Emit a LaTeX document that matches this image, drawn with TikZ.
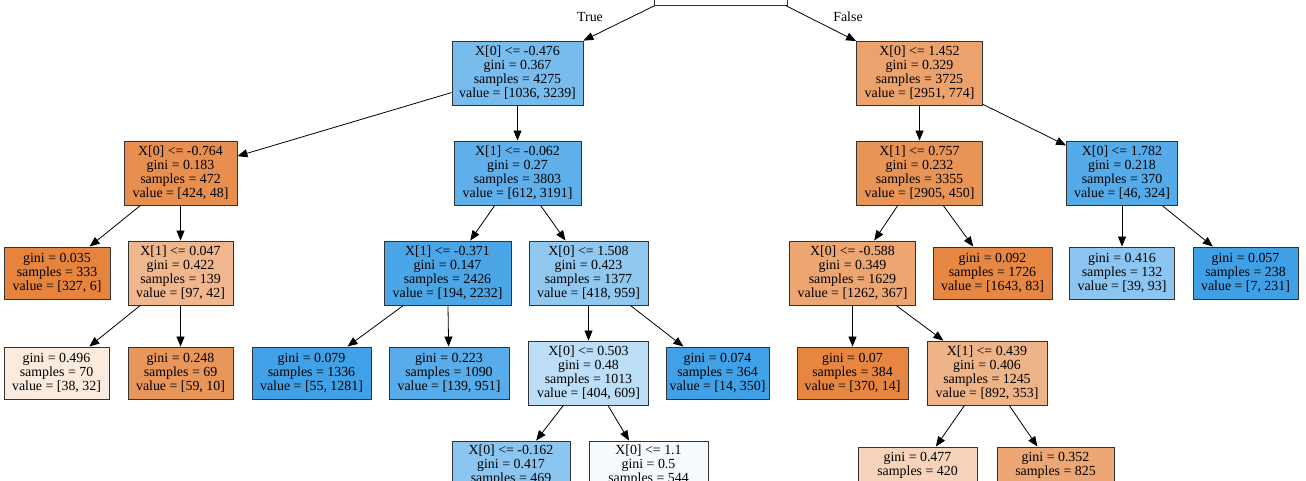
\documentclass[tikz,border=0pt]{standalone}
\usepackage{fontspec}
\setmainfont{Liberation Serif}
\usetikzlibrary{arrows.meta}
\definecolor{gOrange}{RGB}{229,129,57}
\definecolor{gBlue}{RGB}{57,157,229}
\begin{document}
\begin{tikzpicture}[x=1pt,y=-1pt,
  tnode/.style={draw=black!80, line width=0.9pt, rectangle, align=center,
    inner sep=0pt, font=\fontsize{13.9}{14}\selectfont},
  split/.style={tnode, minimum height=64pt},
  leaf/.style={tnode, minimum height=52pt},
  edgelbl/.style={font=\fontsize{13.9}{14}\selectfont},
  link/.style={-{Triangle[length=10pt,width=8pt]}, line width=0.8pt}]
  \useasboundingbox (0,0) rectangle (1306,480);
  \clip (0,0) rectangle (1306,480);

  % Root
  \node[split, minimum width=133pt, fill=gBlue!1] (root) at (721,-27) {\strut\\\strut\\\strut\\value = [3987, 4013]};
  \node[edgelbl] (lblT) at (590,17) {True};
  \node[edgelbl] (lblF) at (848,17) {False};

  % Level 1
  \node[split, minimum width=131pt, fill=gBlue!68] (n1) at (517.5,73) {X[0] <= -0.476\\gini = 0.367\\samples = 4275\\value = [1036, 3239]};
  \node[split, minimum width=126pt, fill=gOrange!74] (n2) at (919.5,73) {X[0] <= 1.452\\gini = 0.329\\samples = 3725\\value = [2951, 774]};

  % Level 2
  \node[split, minimum width=113pt, fill=gOrange!89] (a) at (180.5,173) {X[0] <= -0.764\\gini = 0.183\\samples = 472\\value = [424, 48]};
  \node[split, minimum width=127pt, fill=gBlue!81] (b) at (517.5,173) {X[1] <= -0.062\\gini = 0.27\\samples = 3803\\value = [612, 3191]};
  \node[split, minimum width=126pt, fill=gOrange!85] (c) at (919.5,173) {X[1] <= 0.757\\gini = 0.232\\samples = 3355\\value = [2905, 450]};
  \node[split, minimum width=111pt, fill=gBlue!86] (d) at (1122,173) {X[0] <= 1.782\\gini = 0.218\\samples = 370\\value = [46, 324]};

  % Level 3
  \node[leaf, minimum width=106pt, fill=gOrange!98] (a1) at (57,273) {gini = 0.035\\samples = 333\\value = [327, 6]};
  \node[split, minimum width=105pt, fill=gOrange!57] (a2) at (180.5,273) {X[1] <= 0.047\\gini = 0.422\\samples = 139\\value = [97, 42]};
  \node[split, minimum width=127pt, fill=gBlue!91] (b1) at (447.5,273) {X[1] <= -0.371\\gini = 0.147\\samples = 2426\\value = [194, 2232]};
  \node[split, minimum width=119pt, fill=gBlue!56] (b2) at (588.5,273) {X[0] <= 1.508\\gini = 0.423\\samples = 1377\\value = [418, 959]};
  \node[split, minimum width=126pt, fill=gOrange!71] (c1) at (852.5,273) {X[0] <= -0.588\\gini = 0.349\\samples = 1629\\value = [1262, 367]};
  \node[leaf, minimum width=119pt, fill=gOrange!95] (c2) at (992.5,273) {gini = 0.092\\samples = 1726\\value = [1643, 83]};
  \node[leaf, minimum width=105pt, fill=gBlue!58] (d1) at (1122,273) {gini = 0.416\\samples = 132\\value = [39, 93]};
  \node[leaf, minimum width=105pt, fill=gBlue!97] (d2) at (1245.5,273) {gini = 0.057\\samples = 238\\value = [7, 231]};

  % Level 4
  \node[leaf, minimum width=105pt, fill=gOrange!16] (a2a) at (56.5,373) {gini = 0.496\\samples = 70\\value = [38, 32]};
  \node[leaf, minimum width=105pt, fill=gOrange!83] (a2b) at (180.5,373) {gini = 0.248\\samples = 69\\value = [59, 10]};
  \node[leaf, minimum width=119pt, fill=gBlue!96] (b1a) at (311.5,373) {gini = 0.079\\samples = 1336\\value = [55, 1281]};
  \node[leaf, minimum width=120pt, fill=gBlue!85] (b1b) at (449,373) {gini = 0.223\\samples = 1090\\value = [139, 951]};
  \node[split, minimum width=120pt, fill=gBlue!34] (b2a) at (588.5,373) {X[0] <= 0.503\\gini = 0.48\\samples = 1013\\value = [404, 609]};
  \node[leaf, minimum width=103pt, fill=gBlue!96] (b2b) at (717.5,373) {gini = 0.074\\samples = 364\\value = [14, 350]};
  \node[leaf, minimum width=111pt, fill=gOrange!96] (c1a) at (852.5,373) {gini = 0.07\\samples = 384\\value = [370, 14]};
  \node[split, minimum width=120pt, fill=gOrange!60] (c1b) at (987,373) {X[1] <= 0.439\\gini = 0.406\\samples = 1245\\value = [892, 353]};

  % Level 5
  \node[split, minimum width=118pt, fill=gBlue!58] (b2a1) at (511,473) {X[0] <= -0.162\\gini = 0.417\\samples = 469\\\strut};
  \node[split, minimum width=119pt, fill=gBlue!5] (b2a2) at (648.5,473) {X[0] <= 1.1\\gini = 0.5\\samples = 544\\\strut};
  \node[leaf, minimum width=119pt, fill=gOrange!35] (c1b1) at (917.5,473) {gini = 0.477\\samples = 420\\\strut};
  \node[leaf, minimum width=117pt, fill=gOrange!70] (c1b2) at (1055.5,473) {gini = 0.352\\samples = 825\\\strut};

  % Edges
  \draw[link] (root) -- (n1);
  \draw[link] (root) -- (n2);
  \draw[link] (n1) -- (a);
  \draw[link] (n1) -- (b);
  \draw[link] (n2) -- (c);
  \draw[link] (n2) -- (d);
  \draw[link] (a) -- (a1);
  \draw[link] (a) -- (a2);
  \draw[link] (b) -- (b1);
  \draw[link] (b) -- (b2);
  \draw[link] (c) -- (c1);
  \draw[link] (c) -- (c2);
  \draw[link] (d) -- (d1);
  \draw[link] (d) -- (d2);
  \draw[link] (a2) -- (a2a);
  \draw[link] (a2) -- (a2b);
  \draw[link] (b1) -- (b1a);
  \draw[link] (b1) -- (b1b);
  \draw[link] (b2) -- (b2a);
  \draw[link] (b2) -- (b2b);
  \draw[link] (c1) -- (c1a);
  \draw[link] (c1) -- (c1b);
  \draw[link] (b2a) -- (b2a1);
  \draw[link] (b2a) -- (b2a2);
  \draw[link] (c1b) -- (c1b1);
  \draw[link] (c1b) -- (c1b2);
\end{tikzpicture}
\end{document}
